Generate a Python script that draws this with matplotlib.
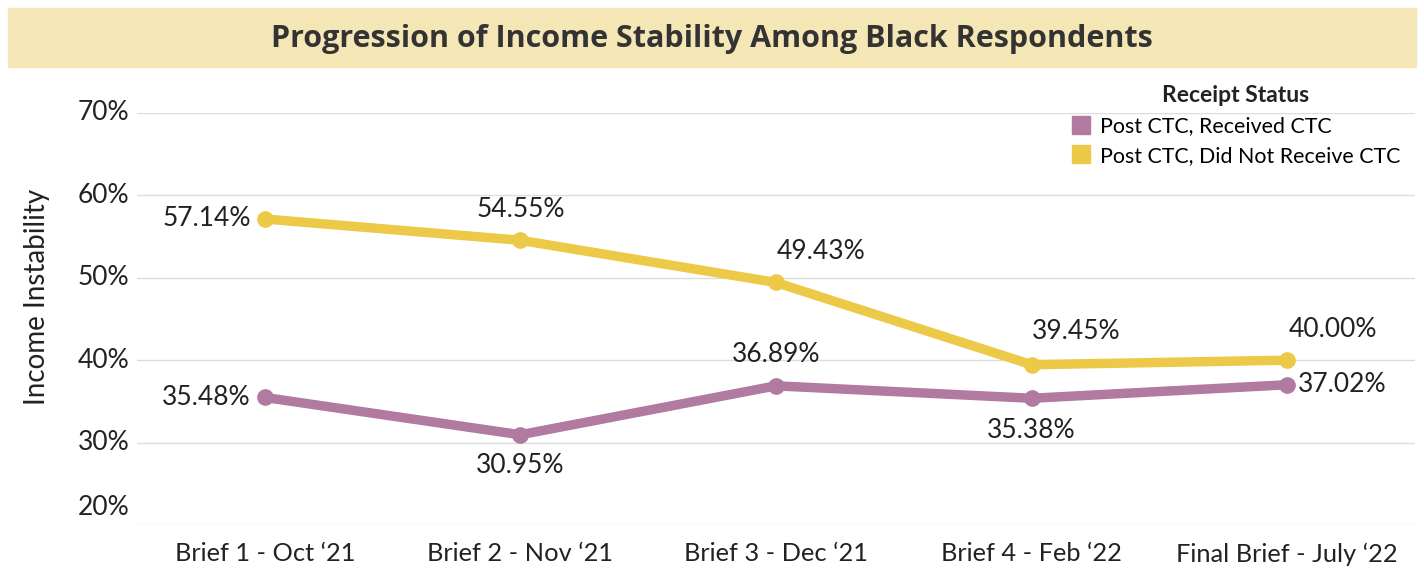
import matplotlib
matplotlib.use("Agg")
import matplotlib.pyplot as plt
from matplotlib.patches import Rectangle
from matplotlib.lines import Line2D

# data
briefs = ["Brief 1 - Oct \u201821", "Brief 2 - Nov \u201821", "Brief 3 - Dec \u201821",
          "Brief 4 - Feb \u201822", "Final Brief - July \u201822"]
received = [35.48, 30.95, 36.89, 35.38, 37.02]
not_received = [57.14, 54.55, 49.43, 39.45, 40.00]
yticks = [20, 30, 40, 50, 60, 70]

purple = "#B07AA1"
yellow = "#EDC948"
plt.rcParams["font.family"] = ["Lato", "DejaVu Sans"]

fig = plt.figure(figsize=(14.24, 5.70), dpi=100)
ax = fig.add_axes([137 / 1424, 1 - 525 / 570, (1415 - 137) / 1424, (525 - 113) / 570])

# title band
fig.patches.append(Rectangle((8 / 1424, 1 - 67 / 570), 1408 / 1424, 59 / 570,
                             transform=fig.transFigure, color="#F5E6B5", zorder=0))
fig.text(0.5, 1 - 39 / 570, "Progression of Income Stability Among Black Respondents",
         ha="center", va="center", fontsize=22, fontweight="bold", color="#333333",
         family=["Open Sans", "DejaVu Sans"])

x = list(range(len(briefs)))
ax.plot(x, not_received, color=yellow, lw=6.8, marker="o", ms=11, solid_capstyle="round", zorder=3)
ax.plot(x, received, color=purple, lw=6.8, marker="o", ms=11, solid_capstyle="round", zorder=3)

ax.set_xlim(-0.5, 4.5)
ax.set_ylim(20, 70)
ax.set_yticks(yticks)
ax.set_yticklabels([])
for t in yticks:
    ax.axhline(t, color="#DDDDDD", lw=1, zorder=1)
    yy = t if t != 20 else 22.1
    ax.text(-0.53, yy, f"{t}%", ha="right", va="center", fontsize=19, color="#222222",
            transform=ax.transData)
ax.tick_params(left=False, bottom=False)
ax.set_xticks(x)
ax.set_xticklabels(briefs, fontsize=18.3, color="#222222")
ax.tick_params(axis="x", pad=9)
for s in ax.spines.values():
    s.set_visible(False)

fig.text(37 / 1424, 1 - 297 / 570, "Income Instability", rotation=90, ha="center",
         va="center", fontsize=20, color="#222222")

# data labels: offsets in pixels
yel_off = [(-14, 0, "right"), (0, 31, "center"), (45, 31, "center"), (45, 33, "center"), (46, 31, "center")]
pur_off = [(-14, 0, "right"), (0, -31, "center"), (0, 31, "center"), (0, -32, "center"), (11, 0, "left")]
for vals, offs in ((not_received, yel_off), (received, pur_off)):
    for i, (v, (dx, dy, ha)) in enumerate(zip(vals, offs)):
        ax.annotate(f"{v:.2f}%", (i, v), xytext=(dx, dy), textcoords="offset pixels",
                    ha=ha, va="center", fontsize=19, color="#222222", zorder=4)

# legend
fig.text(1236 / 1424, 1 - 95 / 570, "Receipt Status", ha="center", va="center",
         fontsize=16.5, fontweight="bold", color="#222222")
handles = [Line2D([], [], ls="", marker="s", ms=13, color=purple),
           Line2D([], [], ls="", marker="s", ms=13, color=yellow)]
fig.legend(handles, ["Post CTC, Received CTC", "Post CTC, Did Not Receive CTC"],
           loc="upper left", bbox_to_anchor=(1068 / 1424, 1 - 112 / 570), frameon=False,
           fontsize=15.4, handlelength=0.8, handletextpad=0.5, labelspacing=0.45,
           borderaxespad=0, borderpad=0.2)

fig.savefig("out.png", dpi=100, facecolor="white")
